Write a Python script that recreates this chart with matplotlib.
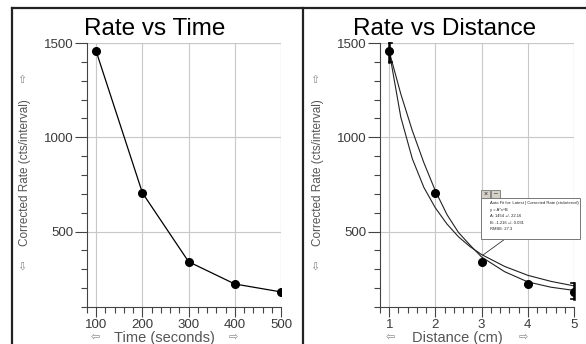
"""Logger Pro style screenshot: rate vs time and rate vs distance."""

import matplotlib
matplotlib.use("Agg")
import matplotlib.pyplot as plt
from matplotlib.lines import Line2D
from matplotlib.patches import Rectangle

# data
time_s = [100, 200, 300, 400, 500]
distance_cm = [1, 2, 3, 4, 5]
rate = [1455, 705, 340, 222, 180]

# two fitted curves drawn on the distance plot
curve_x = [1, 1.25, 1.5, 1.75, 2, 2.25, 2.5, 2.75, 3, 3.5, 4, 4.5, 5]
fit_close = [1455, 1230, 1035, 865, 715, 590, 495, 428, 365, 287, 233, 205, 188]
fit_power = [1455, 1107, 886, 734, 625, 540, 472, 420, 378, 315, 268, 236, 212]

# range-selection brackets on the distance plot
bracket_x = [1, 5]
bracket_lo = [1400, 140]
bracket_hi = [1500, 228]

fit_text = [
    "Auto Fit for: Latest | Corrected Rate (cts/interval)",
    "y = A*x^B",
    "A: 1454 +/- 22.16",
    "B: -1.216 +/- 0.031",
    "RMSE: 27.3",
]

plt.rcParams["font.family"] = ["Liberation Sans", "DejaVu Sans"]

W, H = 586, 344
fig = plt.figure(figsize=(W / 100, H / 100), dpi=100)


def fx(px):
    return px / W


def fy(py):
    return 1 - py / H


GRID = "#c8c8c8"
TXT = "#3a3a3a"


def make_axes(left_px, xlim, xmajor, xminor):
    ax = fig.add_axes([fx(left_px), fy(307), fx(194), 264 / H])
    ax.set_xlim(*xlim)
    ax.set_ylim(100, 1500)
    ax.set_xticks(xmajor)
    ax.set_xticks(xminor, minor=True)
    ax.set_yticks([500, 1000, 1500])
    ax.set_yticks(range(100, 1501, 100), minor=True)
    for side in ("top", "right"):
        ax.spines[side].set_visible(False)
    for side in ("left", "bottom"):
        ax.spines[side].set_color("#444444")
        ax.spines[side].set_linewidth(0.8)
    ax.grid(True, which="major", color=GRID, linewidth=0.8)
    ax.axhline(1500, color=GRID, linewidth=0.8)
    ax.axvline(xlim[1], color=GRID, linewidth=0.8)
    ax.tick_params(which="major", length=7, width=0.8, color="#444444",
                   labelsize=9.5, labelcolor=TXT, pad=1.5)
    ax.tick_params(which="minor", length=4, width=0.8, color="#444444")
    ax.tick_params(axis="y", which="major", length=9, pad=0.5)
    ax.set_axisbelow(True)
    return ax


# left panel: rate vs time
ax1 = make_axes(87, (80, 500), [100, 200, 300, 400, 500], range(80, 501, 20))
ax1.plot(time_s, rate, color="black", linewidth=0.9, marker="o",
         markersize=5.5, zorder=3)

# right panel: rate vs distance
xminor = [0.8 + 0.2 * i for i in range(22)]
ax2 = make_axes(380, (0.8, 5), [1, 2, 3, 4, 5], xminor)
ax2.plot(curve_x, fit_close, color="#222222", linewidth=0.8, zorder=2)
ax2.plot(curve_x, fit_power, color="#222222", linewidth=0.8, zorder=2)
ax2.plot(distance_cm, rate, linestyle="none", color="black", marker="o",
         markersize=5.5, zorder=3)

tip = 0.07
for bx, lo, hi, d in zip(bracket_x, bracket_lo, bracket_hi, (1, -1)):
    ax2.plot([bx, bx], [lo, hi], color="black", linewidth=1.8,
             clip_on=False, zorder=4)
    for yy in (lo, hi):
        ax2.plot([bx, bx + d * tip], [yy, yy], color="black", linewidth=1.2,
                 clip_on=False, zorder=4)

# titles
fig.text(fx(155), fy(35), "Rate vs Time", ha="center", va="baseline",
         fontsize=17.5, color="black")
fig.text(fx(445), fy(35), "Rate vs Distance", ha="center", va="baseline",
         fontsize=17.5, color="black")

# axis labels with Logger Pro arrows
for x0 in (0, 293):
    fig.text(fx(x0 + 25), fy(173), "Corrected Rate (cts/interval)",
             rotation=90, ha="center", va="center", fontsize=8.5,
             color="#555555")
    fig.text(fx(x0 + 22), fy(80), "\u21e7", ha="center", va="center",
             fontsize=8, color="#888888")
    fig.text(fx(x0 + 22), fy(267), "\u21e9", ha="center", va="center",
             fontsize=8, color="#888888")

fig.text(fx(164), fy(342), "Time (seconds)", ha="center", va="baseline",
         fontsize=10.5, color="#555555")
fig.text(fx(95), fy(337), "\u21e6", ha="center", va="center", fontsize=8,
         color="#888888")
fig.text(fx(233), fy(337), "\u21e8", ha="center", va="center", fontsize=8,
         color="#888888")
fig.text(fx(457), fy(342), "Distance (cm)", ha="center", va="baseline",
         fontsize=10.5, color="#555555")
fig.text(fx(390), fy(337), "\u21e6", ha="center", va="center", fontsize=8,
         color="#888888")
fig.text(fx(523), fy(337), "\u21e8", ha="center", va="center", fontsize=8,
         color="#888888")

# curve fit info box
fig.add_artist(Line2D([fx(505), fx(483)], [fy(239), fy(255)],
                      color="#333333", linewidth=0.6))
fig.add_artist(Rectangle((fx(481), fy(239)), fx(99), 41 / H,
                         facecolor="white", edgecolor="#777777",
                         linewidth=0.7, zorder=5))
for bx0, sym in ((481, "\u00d7"), (491, "\u2013")):
    fig.add_artist(Rectangle((fx(bx0), fy(198)), fx(9), 8 / H,
                             facecolor="#d4d0c8", edgecolor="#777777",
                             linewidth=0.6, zorder=5))
    fig.text(fx(bx0 + 4.5), fy(194), sym, ha="center", va="center",
             fontsize=5, color="#222222", zorder=6)
for i, line in enumerate(fit_text):
    fig.text(fx(490), fy(203 + 6.5 * i), line, ha="left", va="center",
             fontsize=3, color="#222222", zorder=6)

# screenshot frame lines
frame = dict(color="#222222", linewidth=1.6)
fig.add_artist(Line2D([fx(12), 1], [fy(8), fy(8)], **frame))
fig.add_artist(Line2D([fx(12), fx(12)], [0, fy(8)], **frame))
fig.add_artist(Line2D([fx(303), fx(303)], [0, fy(8)], **frame))

fig.savefig("out.png", dpi=100)
